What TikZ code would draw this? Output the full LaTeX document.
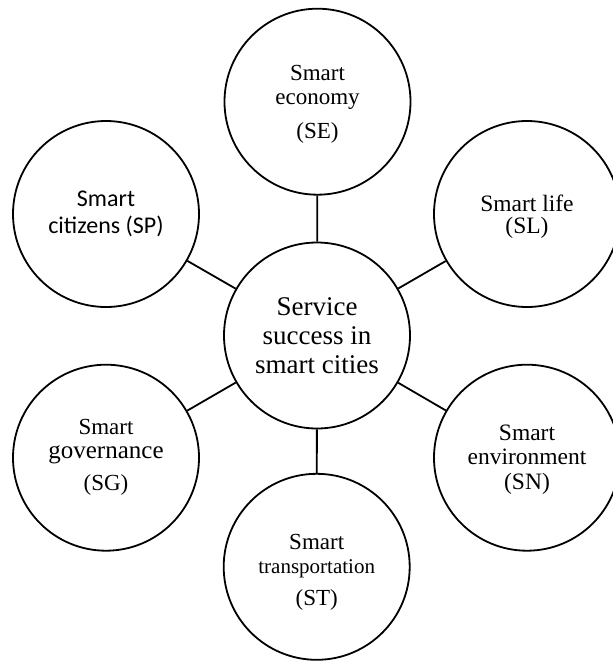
\documentclass[tikz,border=0pt]{standalone}
\usepackage{fontspec}
\setmainfont{Liberation Serif}
\newfontfamily\calibri{Carlito}
% invisible strut that pushes a bubble's text block downwards
\newcommand{\topstrut}[1]{\rule{0pt}{#1}}
\begin{document}
\begin{tikzpicture}[x=1pt,y=-1pt,
  bubble/.style={circle,draw,line width=1.8pt,minimum size=186pt,inner sep=0pt,align=center},
  sat/.style={bubble,font=\fontsize{23}{24}\selectfont},
  spoke/.style={line width=1.8pt}]
\useasboundingbox (0,0) rectangle (613,662);
\clip (0,0) rectangle (613,662);
% central concept
\node[bubble,font=\fontsize{27}{29}\selectfont] (core) at (317,335.5) {Service\\success in\\smart cities};
% surrounding dimensions
\node[sat] (se) at (317.5,101.7) {\topstrut{21pt}Smart\\economy\\[10pt](SE)};
\node[sat,font=\calibri\fontsize{24}{27}\selectfont] (sp) at (106,214) {Smart\\citizens (SP)};
\node[sat,font=\fontsize{23.5}{22.5}\selectfont] (sl) at (527,214) {\topstrut{22pt}Smart life\\(SL)};
\node[sat] (sg) at (106,457.7) {Smart\\{\fontsize{25}{26}\selectfont governance}\\[8pt](SG)};
\node[sat,font=\fontsize{23.5}{24.5}\selectfont] (sn) at (527,457.7) {\topstrut{19pt}Smart\\environment\\(SN)};
\node[sat] (st) at (316.7,566.8) {\topstrut{26pt}Smart\\{\fontsize{21}{22}\selectfont transportation}\\[8pt](ST)};
% spokes
\foreach \n in {se,sp,sl,sg,sn,st}
  \draw[spoke] (core) -- (\n);
\end{tikzpicture}
\end{document}
